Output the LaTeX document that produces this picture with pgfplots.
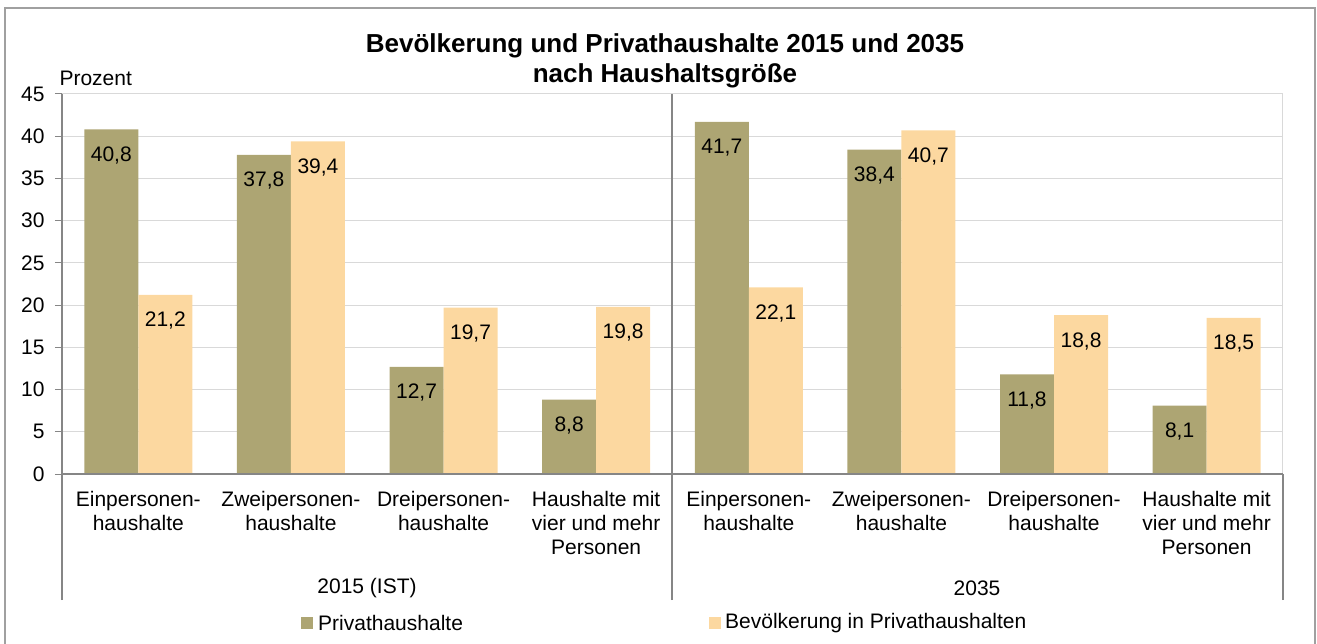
\documentclass[border=0pt]{standalone}
\usepackage{pgfplots}
\pgfplotsset{compat=1.18}
\usepackage{fontspec}
\setmainfont{Liberation Sans}
\definecolor{phh}{HTML}{ADA573}
\definecolor{bev}{HTML}{FCD8A0}
\definecolor{gridgray}{HTML}{D9D9D9}
\definecolor{axgray}{HTML}{868686}
\definecolor{framegray}{HTML}{A0A0A0}
\begin{document}
\begin{tikzpicture}[x=1pt,y=1pt]
\useasboundingbox (0,0) rectangle (1317,643);
\draw[framegray, line width=1.2pt] (5,-5) rectangle (1315,635);
\node[font=\fontsize{26}{30}\selectfont\bfseries, align=center] at (665,582)
  {Bevölkerung und Privathaushalte 2015 und 2035\\nach Haushaltsgröße};
\node[anchor=west, font=\fontsize{21}{24}\selectfont] at (56,565) {Prozent};
\begin{axis}[
    at={(62pt,169pt)}, anchor=south west,
    width=1221pt, height=380pt, scale only axis,
    xmin=-0.5, xmax=7.5, ymin=0, ymax=45,
    ybar=0pt, bar width=0.354,
    ytick={0,5,...,45},
    xtick={0,...,7},
    xticklabels={{Einpersonen-\\haushalte},{Zweipersonen-\\haushalte},{Dreipersonen-\\haushalte},{Haushalte mit\\vier und mehr\\Personen},
                 {Einpersonen-\\haushalte},{Zweipersonen-\\haushalte},{Dreipersonen-\\haushalte},{Haushalte mit\\vier und mehr\\Personen}},
    xticklabel style={align=center, font=\fontsize{21}{24}\selectfont, anchor=north, yshift=-7pt},
    yticklabel style={font=\fontsize{21}{24}\selectfont, xshift=-7pt},
    /pgf/number format/assume math mode=true,
    axis line style={draw=none},
    xtick style={draw=none},
    ytick pos=left, tick align=outside, major tick length=7pt,
    ytick style={axgray, line width=1pt},
    ymajorgrids, grid style={gridgray, line width=1pt},
    nodes near coords={\pgfmathprintnumber[use comma,fixed,fixed zerofill,precision=1]{\pgfplotspointmeta}},
    every node near coord/.append style={font=\fontsize{21}{24}\selectfont, anchor=center, yshift=-26pt, black},
    clip=false,
]
\addplot[fill=phh, draw=none] coordinates {
(0,40.8) (1,37.8) (2,12.7) (3,8.8) (4,41.7) (5,38.4) (6,11.8) (7,8.1)
};
\addplot[fill=bev, draw=none] coordinates {
(0,21.2) (1,39.4) (2,19.7) (3,19.8) (4,22.1) (5,40.7) (6,18.8) (7,18.5)
};
\draw[gridgray, line width=1pt] (rel axis cs:1,0) -- (rel axis cs:1,1);
\end{axis}
\draw[axgray, line width=1.2pt] (62,169) -- (1283,169);
\draw[axgray, line width=1.2pt] (62,43) -- (62,549);
\draw[axgray, line width=1.2pt] (672,43) -- (672,549);
\draw[axgray, line width=1.2pt] (1283,43) -- (1283,169);
\node[font=\fontsize{21}{24}\selectfont] at (367,55) {2015 (IST)};
\node[font=\fontsize{21}{24}\selectfont] at (977,55) {2035};
\fill[phh] (301,14) rectangle (313,26);
\node[anchor=west, inner sep=0pt, font=\fontsize{21}{24}\selectfont] at (318,20) {Privathaushalte};
\fill[bev] (709,14) rectangle (721,26);
\node[anchor=west, inner sep=0pt, font=\fontsize{21}{24}\selectfont] at (725,20) {Bevölkerung in Privathaushalten};
\end{tikzpicture}
\end{document}
